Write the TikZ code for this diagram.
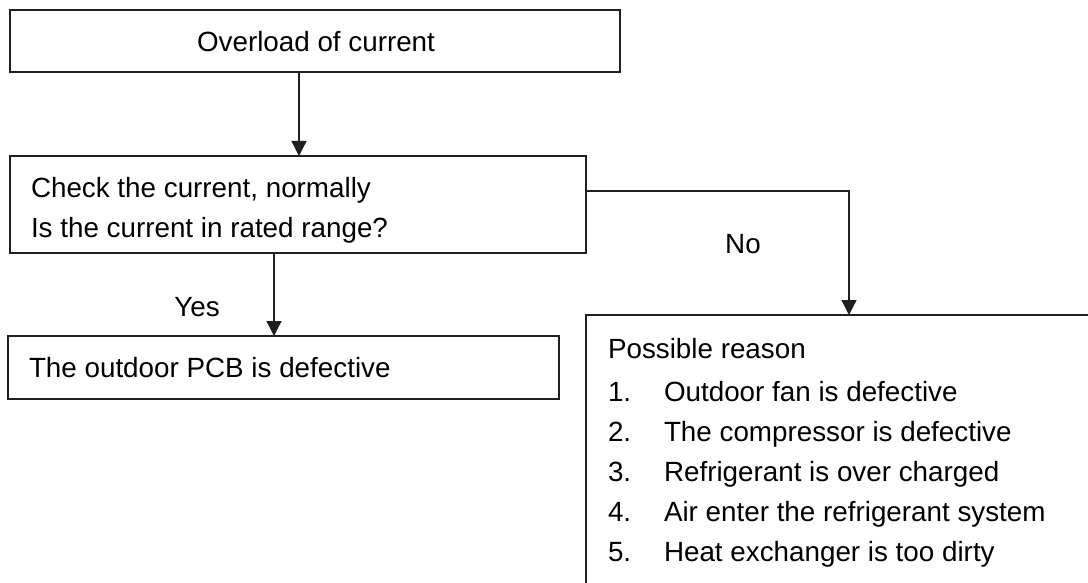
\documentclass[tikz,border=0pt]{standalone}
\usepackage{fontspec}
\setmainfont{Liberation Sans}
\usetikzlibrary{arrows.meta}
\begin{document}
\begin{tikzpicture}[x=1pt,y=-1pt,
  box/.style={draw=black!88,line width=1.5pt,inner sep=0pt,outer sep=0pt},
  txt/.style={inner sep=0pt,outer sep=0pt,font=\fontsize{27.8}{33}\selectfont,text=black},
  conn/.style={draw=black!88,line width=1.3pt,-{Triangle[length=15pt,width=15pt]}},
]
\useasboundingbox (0,0) rectangle (1088,583);
\clip (0,0) rectangle (1088,583);
\fill[white] (0,0) rectangle (1088,583);

% boxes
\node[box,minimum width=610pt,minimum height=62pt] (b1) at (315,41) {};
\node[box,minimum width=576pt,minimum height=97pt] (b2) at (298,204.5) {};
\node[box,minimum width=551pt,minimum height=63pt] (b3) at (283.5,367.5) {};
\node[box,minimum width=534pt,minimum height=305pt] (b4) at (853,467.5) {};

% texts
\node[txt,anchor=base] (t1) at (316,52) {Overload of current};
\node[txt,anchor=base west] (t2a) at (31,197) {Check the current, normally};
\node[txt,anchor=base west] (t2b) at (31,237) {Is the current in rated range?};
\node[txt,anchor=base west] (t3) at (29,377) {The outdoor PCB is defective};
\node[txt,anchor=base west] (t4) at (608,358) {Possible reason};
\node[txt,anchor=base west] (n1) at (608,401) {1.};
\node[txt,anchor=base west] (r1) at (664,401) {Outdoor fan is defective};
\node[txt,anchor=base west] (n2) at (608,441) {2.};
\node[txt,anchor=base west] (r2) at (664,441) {The compressor is defective};
\node[txt,anchor=base west] (n3) at (608,481) {3.};
\node[txt,anchor=base west] (r3) at (664,481) {Refrigerant is over charged};
\node[txt,anchor=base west] (n4) at (608,521) {4.};
\node[txt,anchor=base west] (r4) at (664,521) {Air enter the refrigerant system};
\node[txt,anchor=base west] (n5) at (608,561) {5.};
\node[txt,anchor=base west] (r5) at (664,561) {Heat exchanger is too dirty};

% connectors
\coordinate (c1) at (299,0);
\coordinate (c2) at (849,0);
\coordinate (c3) at (274,0);
\draw[conn] (c1 |- b1.south) -- (c1 |- b2.north);
\draw[conn] ([yshift=13.5pt]b2.east) -| (c2 |- b4.north);
\draw[conn] (c3 |- b2.south) -- (c3 |- b3.north);

% labels
\node[txt,anchor=base] (no) at (743,253) {No};
\node[txt,anchor=base] (yes) at (197,316) {Yes};
\end{tikzpicture}
\end{document}
